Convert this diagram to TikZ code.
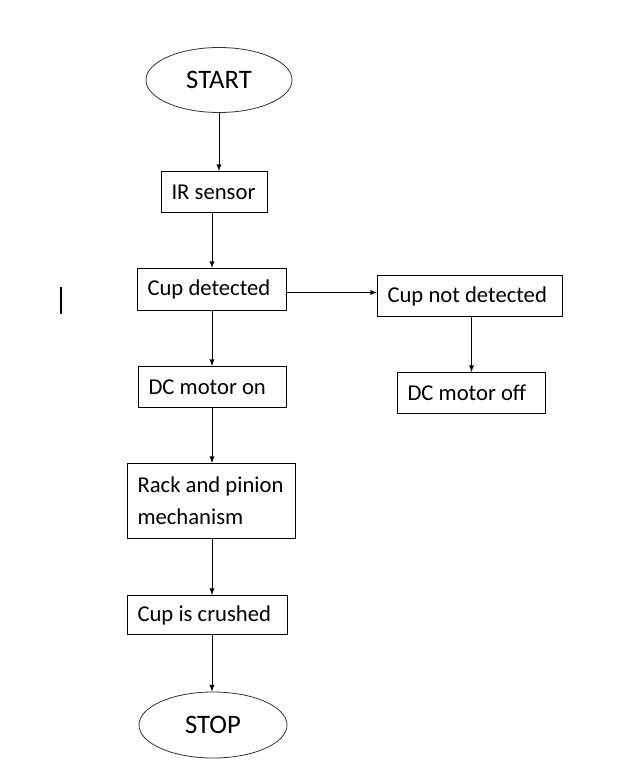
\documentclass[tikz,border=0pt]{standalone}
\usepackage{fontspec}
\setmainfont{Carlito}
\usetikzlibrary{shapes.geometric}
\begin{document}
\begin{tikzpicture}[x=0.75pt,y=-0.75pt,
  box/.style={draw=black, line width=0.75pt, anchor=north west, inner xsep=0pt, inner ysep=0pt,
    align=flush left, execute at begin node={\leftskip=7.5pt\relax}, font=\fontsize{17}{24}\selectfont},
  term/.style={draw=black!80, line width=0.6pt, ellipse, inner sep=0pt, font=\fontsize{20}{24}\selectfont},
  flow/.style={-latex, line width=0.75pt}]
\useasboundingbox (0,0) rectangle (627,778);
% terminals
\node[term, minimum width=109.5pt, minimum height=48.75pt] (start) at (219,80) {START};
\node[term, minimum width=111pt, minimum height=49.5pt] (stop) at (213,725) {STOP};
% steps
\node[box, minimum height=30.75pt, text width=79.5pt] (ir) at (161,171) {IR sensor};
\node[box, minimum height=31.5pt, text width=111.75pt] (cupdet) at (137,268) {Cup detected};
\node[box, minimum height=30.75pt, text width=138.75pt] (cupnot) at (377,275) {Cup not detected};
\node[box, minimum height=30.75pt, text width=111pt] (motoron) at (138,366) {DC motor on};
\node[box, minimum height=30.75pt, text width=111pt] (motoroff) at (397,372) {DC motor off};
\node[box, minimum height=56.25pt, text width=126pt] (rack) at (127,463) {Rack and pinion\\mechanism};
\node[box, minimum height=29.25pt, text width=120pt] (crushed) at (127,595) {Cup is crushed};
% arrows
\draw[flow] (start.south) -- (start.south |- ir.north);
\draw[flow] (cupdet.north |- ir.south) -- (cupdet.north);
\draw[flow] (cupdet.south) -- (cupdet.south |- motoron.north);
\draw[flow] ([yshift=-2.25pt]cupdet.east) -- ([yshift=-2.25pt]cupdet.east -| cupnot.west);
\draw[flow] (cupnot.south -| motoroff.north) -- (motoroff.north);
\draw[flow] (cupdet.south |- motoron.south) -- (cupdet.south |- rack.north);
\draw[flow] (cupdet.south |- rack.south) -- (cupdet.south |- crushed.north);
\draw[flow] (cupdet.south |- crushed.south) -- (cupdet.south |- stop.north);
% cursor mark
\draw[line width=1.5pt] (61,287) -- (61,314);
\end{tikzpicture}
\end{document}
